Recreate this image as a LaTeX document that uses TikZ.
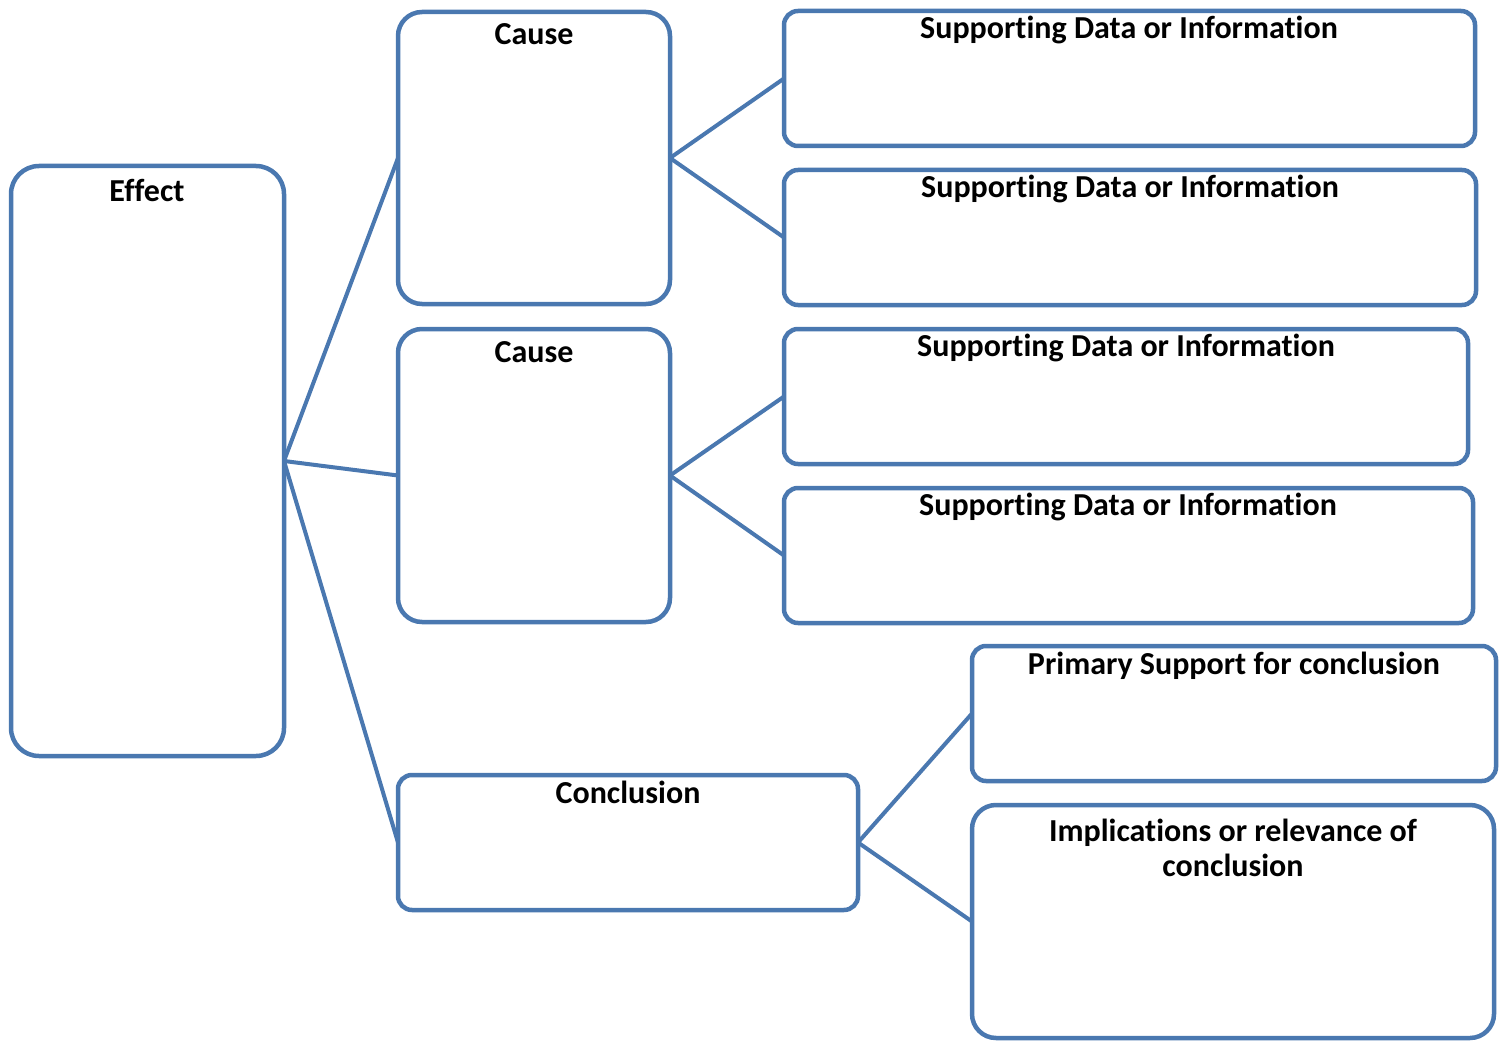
\documentclass[tikz,border=0pt]{standalone}
\usepackage{fontspec}
\setmainfont[Ligatures=NoCommon]{Carlito}
\begin{document}
\definecolor{boxblue}{RGB}{74,120,176}
\begin{tikzpicture}[x=1pt,y=-1pt,
  box/.style={draw=boxblue,line width=4.5pt,fill=white,outer sep=0pt,inner sep=0pt,
    rounded corners=#1},
  box/.default=16pt,
  title/.style={anchor=base,font=\bfseries\fontsize{32}{35}\selectfont,align=center,inner sep=0pt},
  link/.style={draw=boxblue,line width=4pt}]
\useasboundingbox (0,0) rectangle (1507,1043);

% left column
\node[box=28pt,minimum width=273pt,minimum height=590pt] (effect) at (147.5,461) {};
% causes and conclusion
\node[box=24pt,minimum width=272pt,minimum height=292pt] (cause1) at (534,158) {};
\node[box=24pt,minimum width=272pt,minimum height=293pt] (cause2) at (534,475.5) {};
\node[box=14pt,minimum width=460pt,minimum height=135pt] (concl) at (628,842.5) {};
% supporting data
\node[box=14pt,minimum width=691pt,minimum height=135pt] (sd1) at (1129.5,78.5) {};
\node[box=14pt,minimum width=692pt,minimum height=135pt] (sd2) at (1130,237.5) {};
\node[box=14pt,minimum width=684pt,minimum height=135pt] (sd3) at (1126,396.5) {};
\node[box=14pt,minimum width=689pt,minimum height=135pt] (sd4) at (1128.5,555.5) {};
% conclusion support
\node[box=14pt,minimum width=524pt,minimum height=135pt] (prim) at (1234,713.5) {};
\node[box=24pt,minimum width=522pt,minimum height=233pt] (impl) at (1233,921.5) {};

% connectors
\draw[link] (effect.east) -- (cause1.west);
\draw[link] (effect.east) -- (cause2.west);
\draw[link] (effect.east) -- (concl.west);
\draw[link] (cause1.east) -- (sd1.west);
\draw[link] (cause1.east) -- (sd2.west);
\draw[link] (cause2.east) -- (sd3.west);
\draw[link] (cause2.east) -- (sd4.west);
\draw[link] (concl.east) -- (prim.west);
\draw[link] (concl.east) -- (impl.west);

% titles
\node[title] (teffect) at (147,202) {Effect};
\node[title] (tcause1) at (534,45) {Cause};
\node[title] (tcause2) at (534,362) {Cause};
\node[title] (tconcl) at (628,803) {Conclusion};
\node[title] (tsd1) at (1129,39) {Supporting Data or Information};
\node[title] (tsd2) at (1130,198) {Supporting Data or Information};
\node[title] (tsd3) at (1126,356) {Supporting Data or Information};
\node[title] (tsd4) at (1128,515) {Supporting Data or Information};
\node[title] (tprim) at (1234,674) {Primary Support for conclusion};
\node[title] (timpl) at (1233,841) {Implications or relevance of};
\node[title] (timpl2) at (1233,876) {conclusion};
\end{tikzpicture}
\end{document}
